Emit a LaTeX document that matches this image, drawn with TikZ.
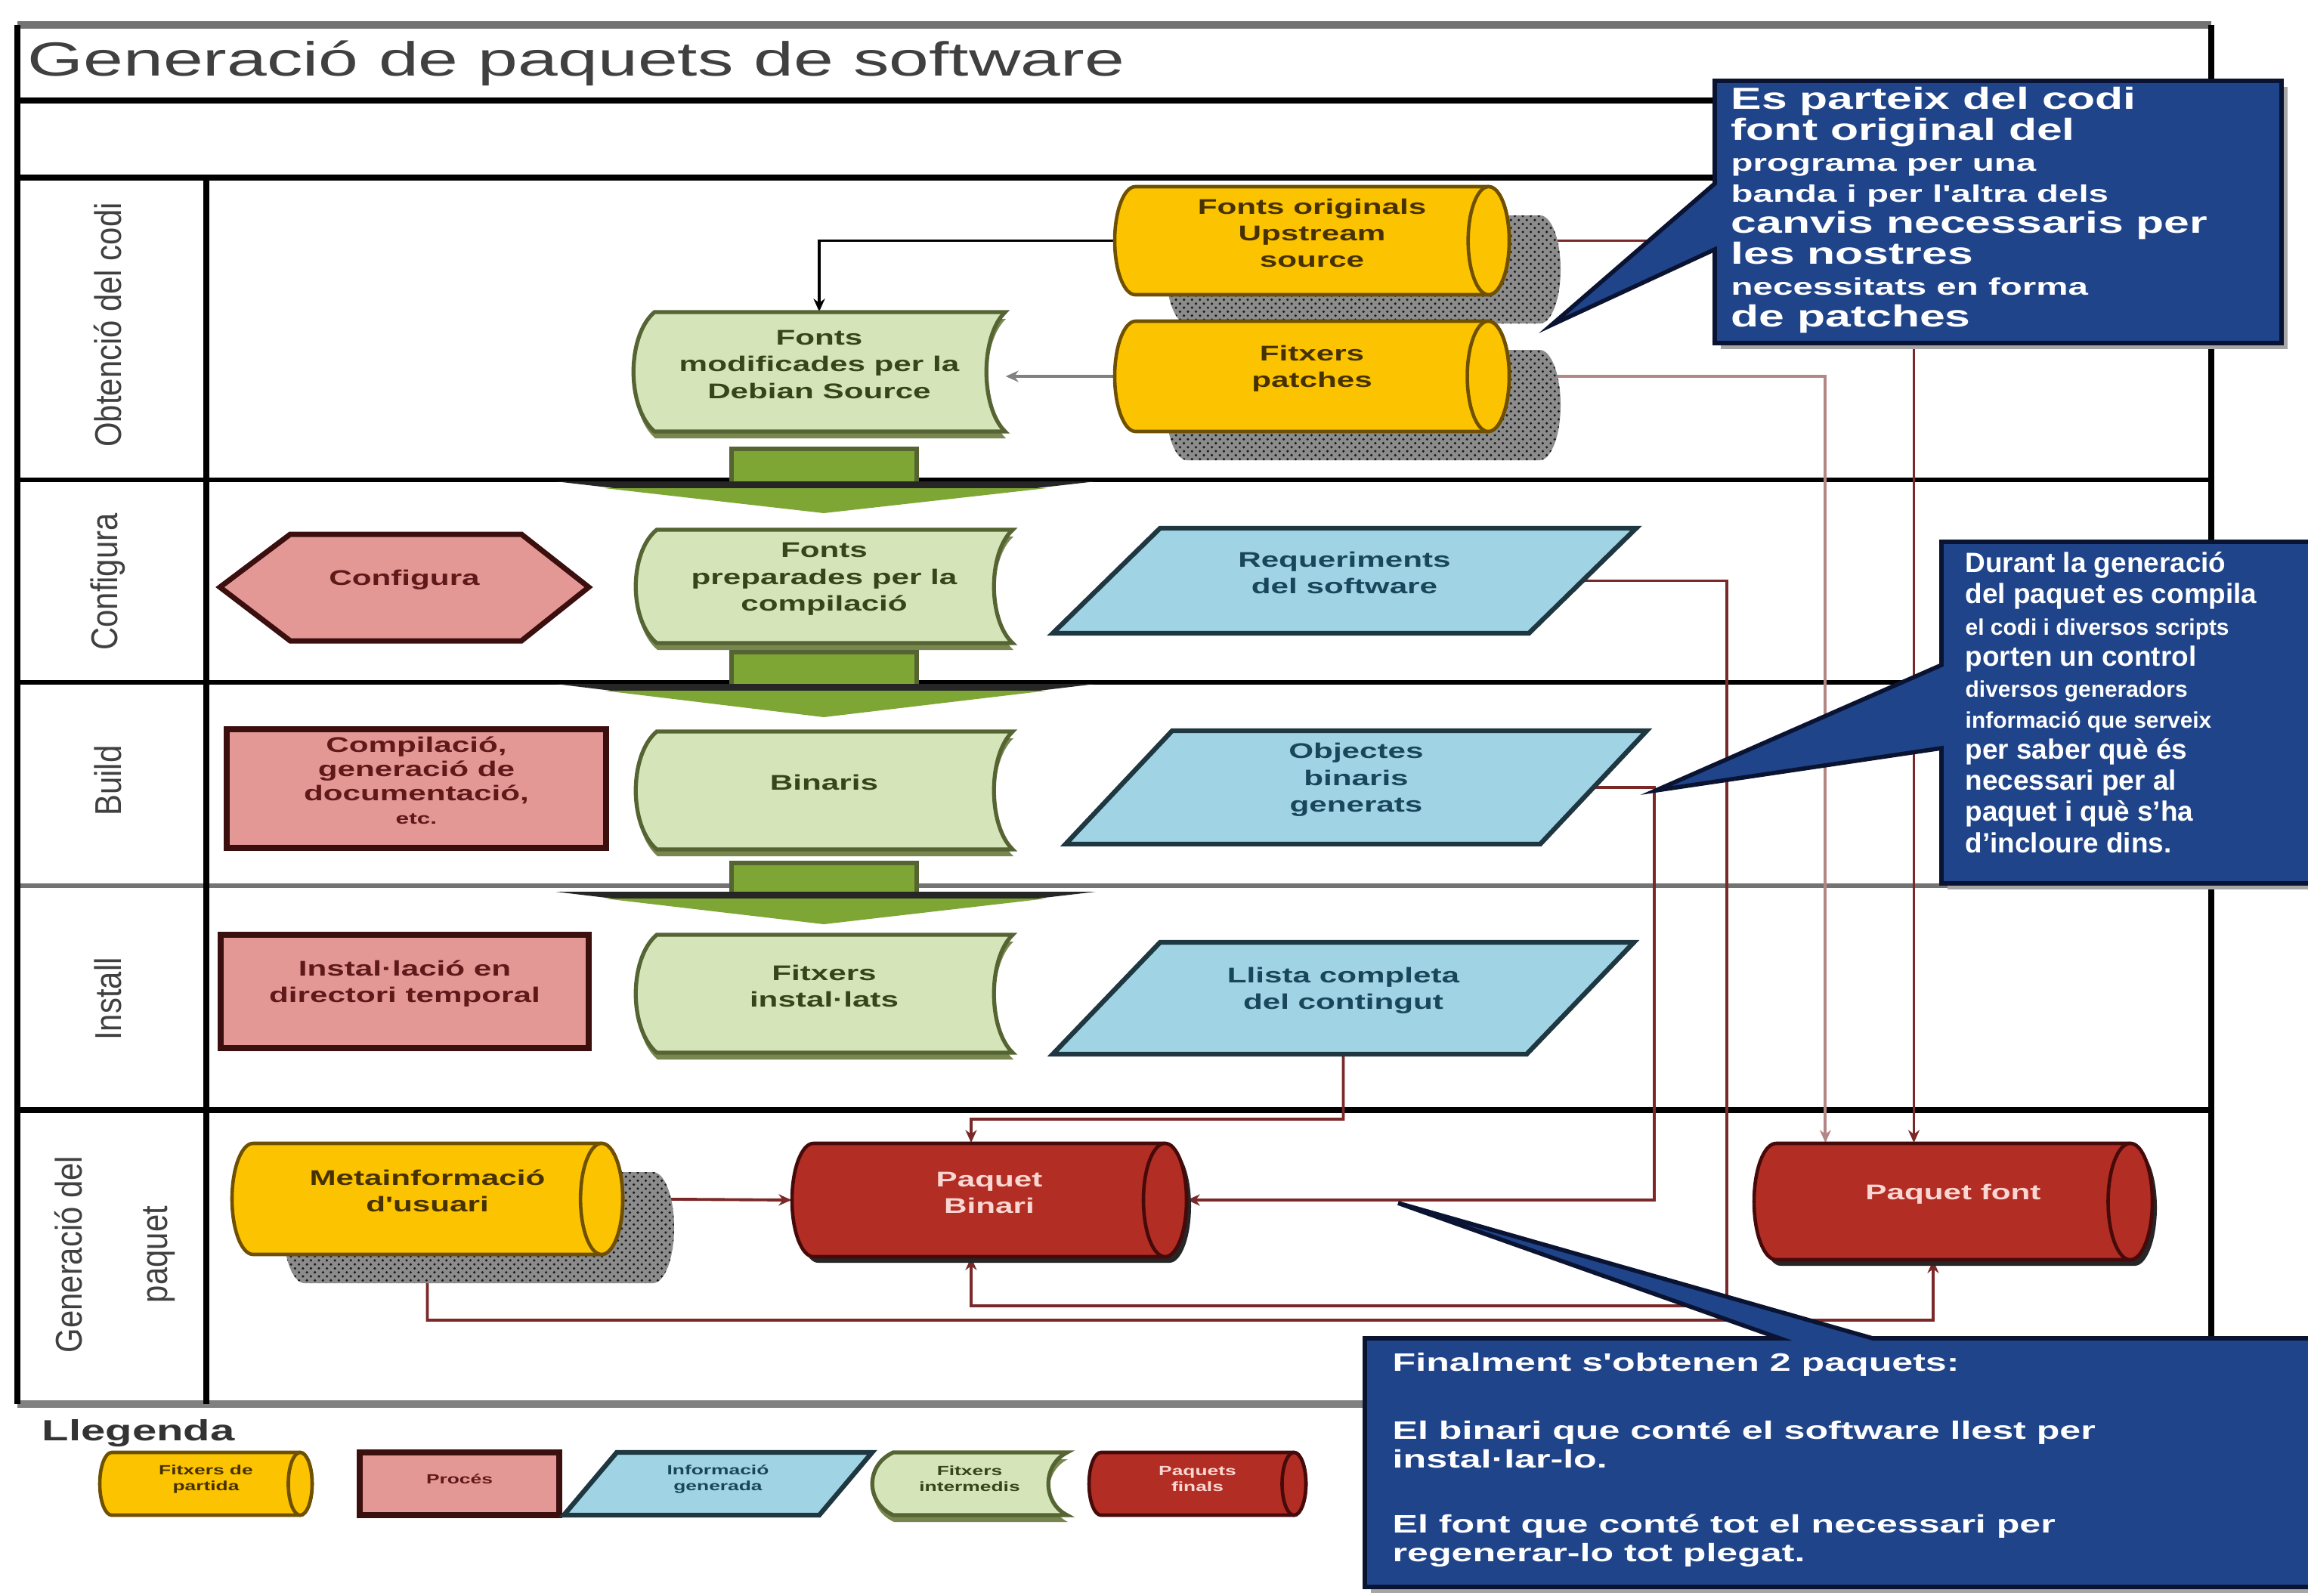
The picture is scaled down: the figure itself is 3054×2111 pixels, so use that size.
\documentclass[tikz,border=0pt]{standalone}
\usepackage{fontspec}
\setmainfont{Liberation Sans}
\newfontfamily\widef[FakeStretch=1.5]{Liberation Sans}
\newfontfamily\narrowf[FakeStretch=0.85]{Liberation Sans}
\usetikzlibrary{arrows.meta,fit,patterns,calc}
\pgfdeclarelayer{back}\pgfdeclarelayer{conn}
\pgfsetlayers{back,conn,main}

\definecolor{ylw}{RGB}{252,195,0}
\definecolor{ylwdark}{RGB}{110,80,0}
\definecolor{ytext}{RGB}{70,50,0}
\definecolor{grn}{RGB}{214,228,186}
\definecolor{grndark}{RGB}{85,100,50}
\definecolor{grnshadow}{RGB}{120,135,80}
\definecolor{gtext}{RGB}{55,70,25}
\definecolor{arrowgrn}{RGB}{126,166,52}
\definecolor{pnk}{RGB}{228,152,150}
\definecolor{pnkdark}{RGB}{60,15,15}
\definecolor{ptext}{RGB}{95,25,25}
\definecolor{blu}{RGB}{160,212,228}
\definecolor{bludark}{RGB}{30,55,65}
\definecolor{btext}{RGB}{25,70,90}
\definecolor{redc}{RGB}{178,45,35}
\definecolor{redcdark}{RGB}{70,10,10}
\definecolor{rtext}{RGB}{250,215,210}
\definecolor{callc}{RGB}{32,68,138}
\definecolor{calldark}{RGB}{10,20,50}
\definecolor{connc}{RGB}{122,40,40}
\definecolor{connlight}{RGB}{180,135,135}

\newcommand{\cylbody}[5]{%
  \pgfmathsetmacro\ax{#2}\pgfmathsetmacro\ay{#3}%
  \pgfmathsetmacro\bx{#4}\pgfmathsetmacro\by{#5}%
  \pgfmathsetmacro\cyy{(\ay+\by)/2}\pgfmathsetmacro\ry{(\by-\ay)/2}%
  \pgfmathsetmacro\rx{0.38*\ry}%
  \pgfmathsetmacro\kx{0.5523*\rx}\pgfmathsetmacro\ky{0.5523*\ry}%
  \path[#1] (\ax+\rx,\ay) -- (\bx-\rx,\ay)
    .. controls (\bx-\rx+\kx,\ay) and (\bx,\cyy-\ky) .. (\bx,\cyy)
    .. controls (\bx,\cyy+\ky) and (\bx-\rx+\kx,\by) .. (\bx-\rx,\by)
    -- (\ax+\rx,\by)
    .. controls (\ax+\rx-\kx,\by) and (\ax,\cyy+\ky) .. (\ax,\cyy)
    .. controls (\ax,\cyy-\ky) and (\ax+\rx-\kx,\ay) .. (\ax+\rx,\ay) -- cycle;}
\newcommand{\cylfull}[5]{%
  \cylbody{#1}{#2}{#3}{#4}{#5}%
  \path[#1] (\bx-\rx,\cyy) ellipse [x radius=\rx, y radius=\ry];}
\newcommand{\cylshadow}[5]{%
  \cylbody{fill=black!45}{#2}{#3}{#4}{#5}%
  \cylbody{pattern=crosshatch dots, pattern color=black!90}{#2}{#3}{#4}{#5}}
\newcommand{\docbody}[5]{%
  \pgfmathsetmacro\ax{#2}\pgfmathsetmacro\ay{#3}%
  \pgfmathsetmacro\bx{#4}\pgfmathsetmacro\by{#5}%
  \pgfmathsetmacro\hh{\by-\ay}%
  \path[#1] (\ax+28,\ay) -- (\bx,\ay)
    .. controls (\bx-33,\ay+0.2*\hh) and (\bx-33,\by-0.2*\hh) .. (\bx,\by)
    -- (\ax+28,\by)
    .. controls (\ax-9,\by-0.2*\hh) and (\ax-9,\ay+0.2*\hh) .. (\ax+28,\ay) -- cycle;}
\newcommand{\docfull}[5]{%
  \docbody{fill=grnshadow}{#2+1}{#3+9}{#4+1}{#5+9}%
  \docbody{#1}{#2}{#3}{#4}{#5}}
\newcommand{\parabody}[6]{%
  \path[#1] (#2+#6,#3) -- (#4,#3) -- (#4-#6,#5) -- (#2,#5) -- cycle;}
\newcommand{\bigarrow}[3]{%
  \fill[arrowgrn] (968,#1) rectangle (1213,#2+2);
  \draw[grndark, line width=1.6pt] (968,#2) -- (968,#1) -- (1213,#1) -- (1213,#2);
  \fill[black!85] (735,#2) -- (1450,#2) -- (1090,#3) -- cycle;
  \fill[arrowgrn] (800,#2+9) -- (1385,#2+9) -- (1090,#3+1) -- cycle;}

\tikzset{
  frameline/.style={line width=2.3pt, black},
  nodetxt/.style={font=\widef\bfseries\fontsize{8}{10}\selectfont, align=center, inner sep=0pt},
  ytxt/.style={nodetxt, text=ytext},
  gtxt/.style={nodetxt, text=gtext},
  ptxt/.style={nodetxt, text=ptext},
  btxt/.style={nodetxt, text=btext},
  rtxt/.style={nodetxt, text=rtext},
  legtxt/.style={font=\widef\bfseries\fontsize{5}{6}\selectfont, align=center, inner sep=0pt},
  ycyl/.style={fill=ylw, draw=ylwdark, line width=1.3pt},
  rcyl/.style={fill=redc, draw=redcdark, line width=1.3pt},
  gdoc/.style={fill=grn, draw=grndark, line width=1.5pt},
  pbox/.style={fill=pnk, draw=pnkdark, line width=2pt},
  bpara/.style={fill=blu, draw=bludark, line width=1.8pt},
  lanef/.style={font=\narrowf\fontsize{14}{32}\selectfont, text=black!75, align=center, rotate=90},
  callbox/.style={fill=callc, draw=calldark, line width=1.6pt},
  callshadow/.style={fill=black!35},
  ctxt/.style={font=\widef\bfseries\fontsize{11.5}{11.7}\selectfont, text=white, align=left, anchor=north west, inner sep=0pt},
  conn/.style={draw=connc, line width=1.1pt, -{Stealth[length=0.17cm,width=0.15cm]}},
  connblack/.style={conn, draw=black},
  conngray/.style={conn, draw=black!50},
  connpale/.style={conn, draw=connlight},
}

\begin{document}
\begin{tikzpicture}[x=0.01cm, y=-0.01cm]
\useasboundingbox (0,0) rectangle (3054,2111);

% ---------- frame ----------
\begin{pgfonlayer}{back}
\fill[white] (0,0) rectangle (3054,2111);
\draw[line width=2.6pt, black!55] (23,33) -- (2926,33);
\draw[frameline] (23,133) -- (2926,133);
\draw[frameline] (23,235) -- (2926,235);
\draw[frameline, line width=1.8pt] (23,635) -- (2926,635);
\draw[frameline, line width=1.8pt] (23,903) -- (2926,903);
\draw[line width=1.8pt, black!55] (23,1172) -- (2926,1172);
\draw[frameline] (23,1469) -- (2926,1469);
\draw[line width=2.6pt, black!50] (23,1858) -- (2926,1858);
\draw[frameline] (23,33) -- (23,1858);
\draw[frameline] (2926,33) -- (2926,1858);
\draw[frameline] (273,235) -- (273,1858);
\end{pgfonlayer}

\node[anchor=base west, font=\widef\fontsize{18}{20}\selectfont, text=black!75, inner sep=0pt] (title) at (36,100) {Generació de paquets de software};

% lane labels
\node[lanef] (lane1) at (143,430) {Obtenció del codi};
\node[lanef] (lane2) at (143,770) {Configura};
\node[lanef] (lane3) at (143,1033) {Build};
\node[lanef] (lane4) at (143,1322) {Install};
\node[lanef] (lane5) at (152,1660) {Generació del\\paquet};

% ---------- lane 1 ----------
\cylshadow{}{1543}{285}{2065}{428}
\cylshadow{}{1543}{463}{2065}{609}
\cylfull{ycyl}{1475}{247}{1997}{390}
\node[ytxt, fit={(1475,247)(1997,390)}] (c1) {Fonts originals\\Upstream\\source};
\cylfull{ycyl}{1475}{425}{1997}{571}
\node[ytxt, fit={(1475,425)(1997,571)}] (c2) {Fitxers\\patches};
\docfull{gdoc}{838}{413}{1330}{571}
\node[gtxt, fit={(838,413)(1330,571)}] (dA) {Fonts\\modificades per la\\Debian Source};

% ---------- lane 2 ----------
\path[pbox] (291,777) -- (384,707) -- (690,707) -- (779,777) -- (690,848) -- (384,848) -- cycle;
\node[ptxt, fit={(291,707)(779,848)}] (hx) {Configura};
\docfull{gdoc}{841}{701}{1340}{851}
\node[gtxt, fit={(841,701)(1340,851)}] (dB) {Fonts\\preparades per la\\compilació};
\parabody{bpara}{1393}{699}{2165}{838}{142}
\node[btxt, fit={(1464,699)(2094,838)}] (req) {Requeriments\\del software};

% ---------- lane 3 ----------
\path[pbox, line width=2.4pt] (300,965) rectangle (802,1122);
\node[ptxt, font=\widef\bfseries\fontsize{8}{9}\selectfont, fit={(300,965)(802,1122)}] (pb) {Compilació,\\generació de\\documentació,\\{\fontsize{6}{9}\selectfont etc.}};
\docfull{gdoc}{841}{968}{1340}{1124}
\node[gtxt, fit={(841,968)(1340,1124)}] (dC) {Binaris};
\parabody{bpara}{1410}{967}{2179}{1117}{141}
\node[btxt, fit={(1480,967)(2109,1117)}] (obj) {Objectes\\binaris\\generats};

% ---------- lane 4 ----------
\path[pbox, line width=2.4pt] (292,1237) rectangle (779,1387);
\node[ptxt, fit={(292,1237)(779,1387)}] (pi) {Instal·lació en\\directori temporal};
\docfull{gdoc}{841}{1237}{1340}{1393}
\node[gtxt, fit={(841,1237)(1340,1393)}] (dD) {Fitxers\\instal·lats};
\parabody{bpara}{1393}{1247}{2162}{1395}{142}
\node[btxt, fit={(1464,1247)(2091,1395)}] (llista) {Llista completa\\del contingut};

% ---------- lane 5 ----------
\cylshadow{}{375}{1551}{892}{1698}
\cylfull{ycyl}{307}{1513}{824}{1660}
\node[ytxt, fit={(307,1513)(824,1660)}] (meta) {Metainformació\\d'usuari};
\cylbody{fill=black!85}{1054}{1521}{1576}{1671}
\cylfull{rcyl}{1048}{1513}{1570}{1663}
\node[rtxt, fit={(1048,1513)(1570,1663)}] (pbin) {Paquet\\Binari};
\cylbody{fill=black!85}{2327}{1521}{2854}{1675}
\cylfull{rcyl}{2321}{1513}{2848}{1667}
\node[rtxt, fit={(2321,1513)(2848,1667)}] (pfont) {Paquet font};

% ---------- big green arrows ----------
\bigarrow{594}{637}{678}
\bigarrow{863}{905}{948}
\bigarrow{1142}{1180}{1222}

% ---------- connectors ----------
\coordinate (j5) at (2285,1728);
\coordinate (j7) at (1285,1481);
\coordinate (j9) at (2558,1747);
\begin{pgfonlayer}{conn}
\draw[connblack] (c1.west) -| (dA.north);
\draw[conngray] (c2.west) -- (c2.west -| dA.east);
\draw[conn] (c1.east) -| ([xshift=-0.52cm]pfont.north);
\draw[connpale] (c2.east) -| ([xshift=-1.69cm]pfont.north);
\draw[conn] (req.east) -| (j5) -| ([xshift=-0.24cm]pbin.south);
\draw[conn] (obj.east) -- ++(79,0) |- (pbin.east);
\draw[conn] (llista.south) |- (j7) -- ([xshift=-0.24cm]pbin.north);
\draw[conn] (meta.east) -- (pbin.west);
\draw[conn] (meta.south) |- (j9) -- ([xshift=-0.265cm]pfont.south);
\end{pgfonlayer}

% ---------- callouts ----------
\begin{scope}
\clip (0,0) rectangle (3054,2111);
\fill[callshadow] (2277,115) rectangle (3027,462);
\path[callbox] (2269,107) -- (3019,107) -- (3019,454) -- (2269,454) -- (2269,330) -- (2053,430) -- (2269,243) -- cycle;
\node[ctxt] (call1) at (2290,114) {Es parteix del codi\\font original del\\{\fontsize{9}{11.7}\selectfont programa per una}\\{\fontsize{9}{11.7}\selectfont banda i per l'altra dels}\\canvis necessaris per\\les nostres\\{\fontsize{9}{11.7}\selectfont necessitats en forma}\\de patches};

\fill[callshadow] (2577,725) rectangle (3100,1177);
\path[callbox] (2569,717) -- (3100,717) -- (3100,1169) -- (2569,1169) -- (2569,990) -- (2191,1046) -- (2569,880) -- cycle;
\node[ctxt, font=\bfseries\fontsize{10.5}{11.7}\selectfont] (call2) at (2600,730) {Durant la generació\\del paquet es compila\\{\fontsize{8.5}{11.7}\selectfont el codi i diversos scripts}\\porten un control\\{\fontsize{8.5}{11.7}\selectfont diversos generadors}\\{\fontsize{8.5}{11.7}\selectfont informació que serveix}\\per saber què és\\necessari per al\\paquet i què s'ha\\d'incloure dins.};

\fill[callshadow] (1814,1779) rectangle (3100,2108);
\path[callbox] (1806,1771) -- (2355,1771) -- (1850,1592) -- (2478,1771) -- (3100,1771) -- (3100,2100) -- (1806,2100) -- cycle;
\node[ctxt, font=\widef\bfseries\fontsize{9.5}{10.8}\selectfont] (call3) at (1842,1790) {Finalment s'obtenen 2 paquets:\\[0.52cm]El binari que conté el software llest per\\instal·lar-lo.\\[0.48cm]El font que conté tot el necessari per\\regenerar-lo tot plegat.};
\end{scope}

% ---------- legend ----------
\node[anchor=west, font=\widef\bfseries\fontsize{11}{12}\selectfont, text=black!80, inner sep=0pt] (leg) at (55,1897) {Llegenda};
\cylfull{ycyl}{132}{1922}{413}{2005}
\node[legtxt, text=ytext, fit={(132,1922)(413,2005)}] (legY) {Fitxers de\\partida};
\path[pbox, line width=2.2pt] (476,1922) rectangle (740,2005);
\node[legtxt, text=ptext, fit={(476,1922)(740,2005)}] (legP) {Procés};
\parabody{bpara}{746}{1922}{1154}{2005}{70}
\node[legtxt, text=btext, fit={(781,1922)(1119,2005)}] (legB) {Informació\\generada};
\docfull{gdoc}{1154}{1922}{1412}{2005}
\node[legtxt, text=gtext, fit={(1154,1922)(1412,2005)}] (legG) {Fitxers\\intermedis};
\cylfull{rcyl}{1441}{1922}{1728}{2005}
\node[legtxt, text=rtext, fit={(1441,1922)(1728,2005)}] (legR) {Paquets\\finals};
\end{tikzpicture}
\end{document}
